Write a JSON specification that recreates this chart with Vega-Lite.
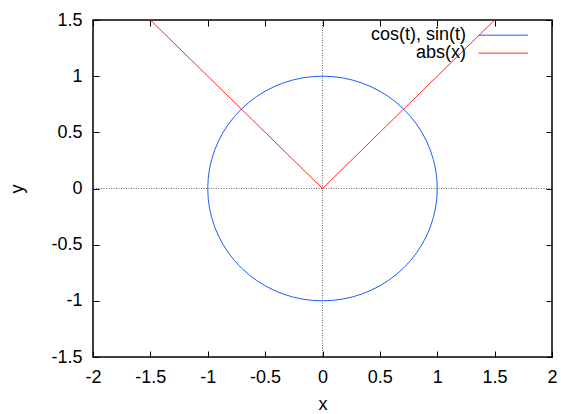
{
  "$schema": "https://vega.github.io/schema/vega-lite/v6.json",
  "width": 459,
  "height": 337,
  "autosize": {"type": "none"},
  "padding": {"left": 93, "top": 20, "right": 9, "bottom": 57},
  "background": "white",
  "config": {
    "font": "Liberation Sans",
    "view": {"stroke": "black", "strokeWidth": 1.5},
    "axis": {
      "grid": false,
      "domain": false,
      "tickColor": "black",
      "tickSize": -6,
      "tickWidth": 1,
      "labelFont": "Liberation Sans",
      "labelFontSize": 18,
      "labelColor": "black",
      "labelExpr": "'' + datum.value",
      "titleFont": "Liberation Sans",
      "titleFontSize": 18,
      "titleFontWeight": "normal",
      "titleColor": "black"
    }
  },
  "datasets": {
    "circle": [
      {"t": 0, "x": 1, "y": 0}, {"t": 5, "x": 0.9962, "y": 0.0872}, {"t": 10, "x": 0.9848, "y": 0.1736}, {"t": 15, "x": 0.9659, "y": 0.2588},
      {"t": 20, "x": 0.9397, "y": 0.342}, {"t": 25, "x": 0.9063, "y": 0.4226}, {"t": 30, "x": 0.866, "y": 0.5}, {"t": 35, "x": 0.8192, "y": 0.5736},
      {"t": 40, "x": 0.766, "y": 0.6428}, {"t": 45, "x": 0.7071, "y": 0.7071}, {"t": 50, "x": 0.6428, "y": 0.766}, {"t": 55, "x": 0.5736, "y": 0.8192},
      {"t": 60, "x": 0.5, "y": 0.866}, {"t": 65, "x": 0.4226, "y": 0.9063}, {"t": 70, "x": 0.342, "y": 0.9397}, {"t": 75, "x": 0.2588, "y": 0.9659},
      {"t": 80, "x": 0.1736, "y": 0.9848}, {"t": 85, "x": 0.0872, "y": 0.9962}, {"t": 90, "x": 0, "y": 1}, {"t": 95, "x": -0.0872, "y": 0.9962},
      {"t": 100, "x": -0.1736, "y": 0.9848}, {"t": 105, "x": -0.2588, "y": 0.9659}, {"t": 110, "x": -0.342, "y": 0.9397}, {"t": 115, "x": -0.4226, "y": 0.9063},
      {"t": 120, "x": -0.5, "y": 0.866}, {"t": 125, "x": -0.5736, "y": 0.8192}, {"t": 130, "x": -0.6428, "y": 0.766}, {"t": 135, "x": -0.7071, "y": 0.7071},
      {"t": 140, "x": -0.766, "y": 0.6428}, {"t": 145, "x": -0.8192, "y": 0.5736}, {"t": 150, "x": -0.866, "y": 0.5}, {"t": 155, "x": -0.9063, "y": 0.4226},
      {"t": 160, "x": -0.9397, "y": 0.342}, {"t": 165, "x": -0.9659, "y": 0.2588}, {"t": 170, "x": -0.9848, "y": 0.1736}, {"t": 175, "x": -0.9962, "y": 0.0872},
      {"t": 180, "x": -1, "y": 0}, {"t": 185, "x": -0.9962, "y": -0.0872}, {"t": 190, "x": -0.9848, "y": -0.1736}, {"t": 195, "x": -0.9659, "y": -0.2588},
      {"t": 200, "x": -0.9397, "y": -0.342}, {"t": 205, "x": -0.9063, "y": -0.4226}, {"t": 210, "x": -0.866, "y": -0.5}, {"t": 215, "x": -0.8192, "y": -0.5736},
      {"t": 220, "x": -0.766, "y": -0.6428}, {"t": 225, "x": -0.7071, "y": -0.7071}, {"t": 230, "x": -0.6428, "y": -0.766}, {"t": 235, "x": -0.5736, "y": -0.8192},
      {"t": 240, "x": -0.5, "y": -0.866}, {"t": 245, "x": -0.4226, "y": -0.9063}, {"t": 250, "x": -0.342, "y": -0.9397}, {"t": 255, "x": -0.2588, "y": -0.9659},
      {"t": 260, "x": -0.1736, "y": -0.9848}, {"t": 265, "x": -0.0872, "y": -0.9962}, {"t": 270, "x": 0, "y": -1}, {"t": 275, "x": 0.0872, "y": -0.9962},
      {"t": 280, "x": 0.1736, "y": -0.9848}, {"t": 285, "x": 0.2588, "y": -0.9659}, {"t": 290, "x": 0.342, "y": -0.9397}, {"t": 295, "x": 0.4226, "y": -0.9063},
      {"t": 300, "x": 0.5, "y": -0.866}, {"t": 305, "x": 0.5736, "y": -0.8192}, {"t": 310, "x": 0.6428, "y": -0.766}, {"t": 315, "x": 0.7071, "y": -0.7071},
      {"t": 320, "x": 0.766, "y": -0.6428}, {"t": 325, "x": 0.8192, "y": -0.5736}, {"t": 330, "x": 0.866, "y": -0.5}, {"t": 335, "x": 0.9063, "y": -0.4226},
      {"t": 340, "x": 0.9397, "y": -0.342}, {"t": 345, "x": 0.9659, "y": -0.2588}, {"t": 350, "x": 0.9848, "y": -0.1736}, {"t": 355, "x": 0.9962, "y": -0.0872},
      {"t": 360, "x": 1, "y": 0}
    ],
    "absx": [
      {"x": -1.5, "y": 1.5}, {"x": 0, "y": 0}, {"x": 1.5, "y": 1.5}
    ],
    "legend": [
      {"label": "cos(t), sin(t)", "series": "circle", "x0": 1.36, "x1": 1.79, "tx": 1.25, "y": 1.365},
      {"label": "abs(x)", "series": "abs", "x0": 1.36, "x1": 1.79, "tx": 1.25, "y": 1.205}
    ]
  },
  "layer": [
    {
      "data": {"values": [{"v": 0}]},
      "mark": {"type": "rule", "color": "black", "strokeWidth": 0.6, "strokeDash": [1, 1.5]},
      "encoding": {"x": {"field": "v", "type": "quantitative", "axis": null, "scale": {"domain": [-2, 2]}}}
    },
    {
      "data": {"values": [{"v": 0}]},
      "mark": {"type": "rule", "color": "black", "strokeWidth": 0.6, "strokeDash": [1, 1.5]},
      "encoding": {"y": {"field": "v", "type": "quantitative", "axis": null, "scale": {"domain": [-1.5, 1.5]}}}
    },
    {
      "data": {"name": "circle"},
      "mark": {"type": "line", "strokeWidth": 1, "clip": true, "color": "#1a5cff"},
      "encoding": {
        "x": {"field": "x", "type": "quantitative", "scale": {"domain": [-2, 2], "nice": false, "zero": false},
              "axis": {"orient": "bottom", "title": "x", "values": [-2, -1.5, -1, -0.5, 0, 0.5, 1, 1.5, 2], "labelPadding": 17, "titlePadding": 9, "labelFlush": false}},
        "y": {"field": "y", "type": "quantitative", "scale": {"domain": [-1.5, 1.5], "nice": false, "zero": false},
              "axis": {"orient": "left", "title": "y", "values": [-1.5, -1, -0.5, 0, 0.5, 1, 1.5], "labelPadding": 17, "titlePadding": 24, "labelFlush": false}},
        "order": {"field": "t", "type": "quantitative"}
      }
    },
    {
      "data": {"name": "absx"},
      "mark": {"type": "line", "strokeWidth": 1, "clip": true, "color": "#ff2a1a"},
      "encoding": {
        "x": {"field": "x", "type": "quantitative", "scale": {"domain": [-2, 2], "nice": false, "zero": false},
              "axis": {"orient": "top", "title": null, "labels": false, "values": [-2, -1.5, -1, -0.5, 0, 0.5, 1, 1.5, 2]}},
        "y": {"field": "y", "type": "quantitative", "scale": {"domain": [-1.5, 1.5], "nice": false, "zero": false},
              "axis": {"orient": "right", "title": null, "labels": false, "values": [-1.5, -1, -0.5, 0, 0.5, 1, 1.5]}}
      }
    },
    {
      "data": {"name": "legend"},
      "mark": {"type": "rule", "strokeWidth": 1},
      "encoding": {
        "x": {"field": "x0", "type": "quantitative", "axis": null},
        "x2": {"field": "x1"},
        "y": {"field": "y", "type": "quantitative", "axis": null},
        "color": {"field": "series", "type": "nominal", "scale": {"domain": ["circle", "abs"], "range": ["#1a5cff", "#ff2a1a"]}, "legend": null}
      }
    },
    {
      "data": {"name": "legend"},
      "mark": {"type": "text", "align": "right", "baseline": "middle", "fontSize": 18, "font": "Liberation Sans", "color": "black"},
      "encoding": {
        "x": {"field": "tx", "type": "quantitative", "axis": null},
        "y": {"field": "y", "type": "quantitative", "axis": null},
        "text": {"field": "label"}
      }
    }
  ],
  "resolve": {"axis": {"x": "independent", "y": "independent"}}
}
